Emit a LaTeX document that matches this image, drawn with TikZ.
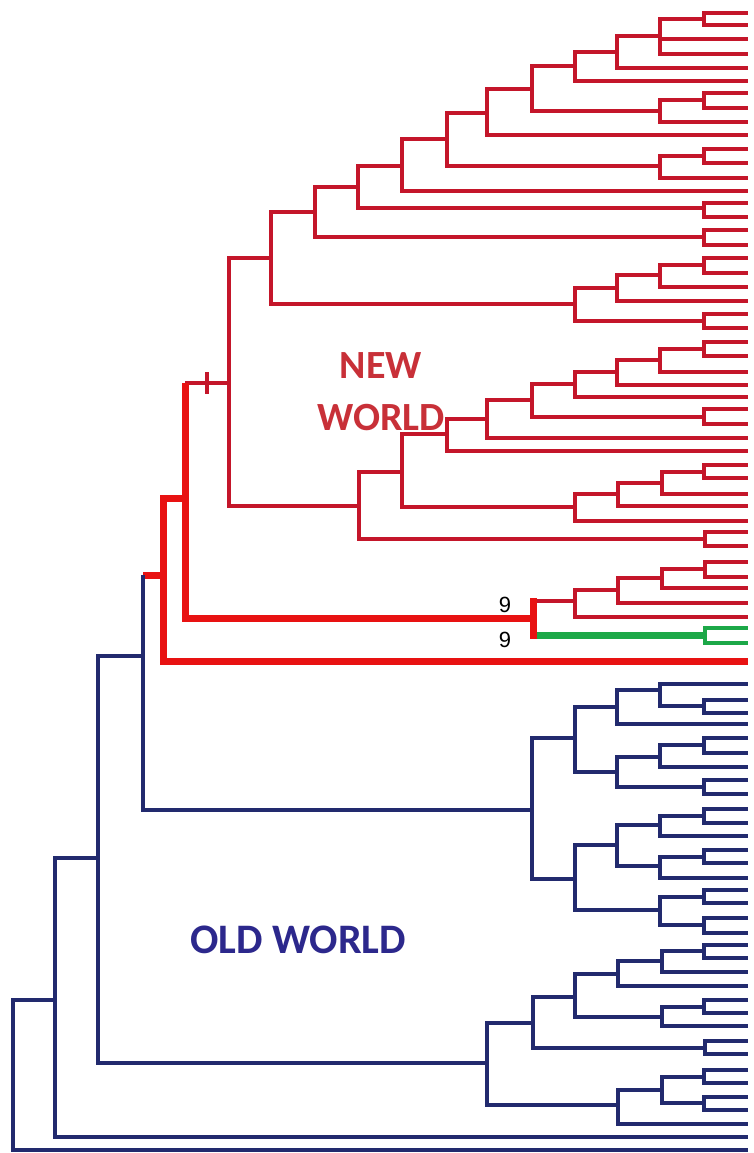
\documentclass[tikz,border=0pt]{standalone}
\usepackage{fontspec}
\setmainfont{Carlito}
\newfontfamily\numfont{Liberation Sans}
\usetikzlibrary{calc}
\definecolor{rthin}{RGB}{196,22,42}
\definecolor{rthick}{RGB}{232,18,18}
\definecolor{navy}{RGB}{34,42,110}
\definecolor{grn}{RGB}{28,168,72}
\definecolor{nwtext}{RGB}{200,48,56}
\definecolor{owtext}{RGB}{44,40,140}
\newcommand\kids[3]{\foreach \kd in {#3}{\draw[#1] (#2) |- (\kd);}}
\begin{document}
\begin{tikzpicture}[x=1pt,y=-1pt,
  rl/.style={draw=rthin,line width=3.4pt,line join=miter},
  rt/.style={draw=rthick,line width=7pt,line join=miter},
  bl/.style={draw=navy,line width=3.7pt,line join=miter},
  gt/.style={draw=grn,line width=7pt},
  gl/.style={draw=grn,line width=3.4pt,line join=miter},
  lbl/.style={font=\fontsize{40}{40}\selectfont\bfseries,anchor=base,inner sep=0pt},
  num/.style={font=\numfont\fontsize{22}{22}\selectfont,inner sep=0pt}]
\useasboundingbox (0,0) rectangle (754,1153);
% leaves
\foreach \yy [count=\i] in {13,25,39,54,68,81,93,108,122,135,149,163,178,191,203,217,230,245,258,273,287,301,314,328,342,356,372,385,397,409,424,438,451,465,478,494,506,521,532,546,562,577,588,603,617,628,643,661}{\coordinate (r\i) at (748,\yy);}
\foreach \yy [count=\i] in {684,700,713,724,738,753,767,780,794,809,823,836,850,863,878,890,903,918,933,945,958,972,986,1000,1013,1026,1041,1054,1070,1083,1097,1110,1124,1137,1150}{\coordinate (b\i) at (748,\yy);}
% red internal nodes
\coordinate (A) at (704,19);
\coordinate (B) at (660,36);
\coordinate (C) at (617,52);
\coordinate (D) at (575,66);
\coordinate (E1) at (704,100);
\coordinate (E) at (660,111);
\coordinate (F) at (532,89);
\coordinate (G) at (487,113);
\coordinate (H1) at (704,156);
\coordinate (H) at (660,166);
\coordinate (I) at (447,139);
\coordinate (J) at (402,166);
\coordinate (K1) at (704,208);
\coordinate (K) at (358,187);
\coordinate (L1) at (704,237);
\coordinate (L) at (315,212);
\coordinate (M1) at (704,265);
\coordinate (M2) at (660,275);
\coordinate (M3) at (617,288);
\coordinate (M4) at (704,321);
\coordinate (M) at (575,304);
\coordinate (N) at (271,258);
\coordinate (O1) at (704,349);
\coordinate (O2) at (660,360);
\coordinate (O3) at (617,372);
\coordinate (O4) at (575,384);
\coordinate (O5) at (704,417);
\coordinate (O6) at (532,400);
\coordinate (O) at (487,419);
\coordinate (P) at (447,434);
\coordinate (Q1) at (704,472);
\coordinate (Q2) at (662,483);
\coordinate (Q3) at (618,494);
\coordinate (Q) at (575,507);
\coordinate (R) at (402,472);
\coordinate (S1) at (705,539);
\coordinate (S) at (359,506);
\coordinate (T) at (229,383);
\coordinate (tk) at (207,383);
\coordinate (U1) at (705,569);
\coordinate (U2) at (662,578);
\coordinate (U3) at (618,590);
\coordinate (U) at (575,601);
\coordinate (G1) at (705,635);
\coordinate (V) at (533,618);
\coordinate (W) at (185,498);
\coordinate (X) at (163,575);
% blue internal nodes
\coordinate (Y) at (143,656);
\coordinate (Z) at (532,810);
\coordinate (Za) at (575,738);
\coordinate (Za1) at (617,707);
\coordinate (Za11) at (660,690);
\coordinate (Zc1) at (704,706);
\coordinate (Za2) at (617,772);
\coordinate (Za21) at (660,757);
\coordinate (Zc3) at (704,745);
\coordinate (Zc2) at (704,787);
\coordinate (Zb) at (575,879);
\coordinate (Zb1) at (617,845);
\coordinate (Zb11) at (660,825);
\coordinate (Zc4) at (704,816);
\coordinate (Zb12) at (660,866);
\coordinate (Zc5) at (704,857);
\coordinate (Zb2) at (660,910);
\coordinate (Zc6) at (704,897);
\coordinate (Zc7) at (704,925);
\coordinate (Y2) at (98,858);
\coordinate (Lo) at (487,1063);
\coordinate (Lo1) at (533,1023);
\coordinate (Zc8) at (705,1048);
\coordinate (Lo11) at (575,997);
\coordinate (Lo111) at (618,974);
\coordinate (Lo1111) at (662,961);
\coordinate (Zc9) at (704,951);
\coordinate (Lo112) at (662,1017);
\coordinate (Zc10) at (704,1007);
\coordinate (Lo2) at (618,1105);
\coordinate (Lo21) at (662,1090);
\coordinate (Zc11) at (704,1077);
\coordinate (Zc12) at (704,1103);
\coordinate (Y3) at (55,1000);
\coordinate (Rt) at (13,1075);
% red thin edges
\kids{rl}{A}{r1,r2}
\kids{rl}{B}{A,r3,r4}
\kids{rl}{C}{B,r5}
\kids{rl}{D}{C,r6}
\kids{rl}{E1}{r7,r8}
\kids{rl}{E}{E1,r9}
\kids{rl}{F}{D,E}
\kids{rl}{G}{F,r10}
\kids{rl}{H1}{r11,r12}
\kids{rl}{H}{H1,r13}
\kids{rl}{I}{G,H}
\kids{rl}{J}{I,r14}
\kids{rl}{K1}{r15,r16}
\kids{rl}{K}{J,K1}
\kids{rl}{L1}{r17,r18}
\kids{rl}{L}{K,L1}
\kids{rl}{M1}{r19,r20}
\kids{rl}{M2}{M1,r21}
\kids{rl}{M3}{M2,r22}
\kids{rl}{M4}{r23,r24}
\kids{rl}{M}{M3,M4}
\kids{rl}{N}{L,M}
\kids{rl}{O1}{r25,r26}
\kids{rl}{O2}{O1,r27}
\kids{rl}{O3}{O2,r28}
\kids{rl}{O4}{O3,r29}
\kids{rl}{O5}{r30,r31}
\kids{rl}{O6}{O4,O5}
\kids{rl}{O}{O6,r32}
\kids{rl}{P}{O,r33}
\kids{rl}{Q1}{r34,r35}
\kids{rl}{Q2}{Q1,r36}
\kids{rl}{Q3}{Q2,r37}
\kids{rl}{Q}{Q3,r38}
\kids{rl}{R}{P,Q}
\kids{rl}{S1}{r39,r40}
\kids{rl}{S}{R,S1}
\kids{rl}{T}{N,S}
\kids{rl}{U1}{r41,r42}
\kids{rl}{U2}{U1,r43}
\kids{rl}{U3}{U2,r44}
\kids{rl}{U}{U3,r45}
\kids{gl}{G1}{r46,r47}
% thick red backbone
\draw[rl] (V|-U) -- (U);
\draw[gt] (V|-G1) -- (G1);
\draw[rt,line cap=rect] (V|-U) -- (V|-G1);
\draw[rl] (W|-T) -- (T);
\draw[rl] ($(tk)+(0,-11)$) -- ($(tk)+(0,11)$);
\draw[rt] (W|-T) |- (V);
\draw[rt] (W) -| (X) |- (r48);
\draw[rt] (Y|-X) -- (X);
% blue edges
\draw[bl] (Y|-X) |- (Z);
\kids{bl}{Z}{Za,Zb}
\kids{bl}{Za}{Za1,Za2}
\kids{bl}{Za1}{Za11,b4}
\kids{bl}{Za11}{b1,Zc1}
\kids{bl}{Zc1}{b2,b3}
\kids{bl}{Za2}{Za21,Zc2}
\kids{bl}{Za21}{Zc3,b7}
\kids{bl}{Zc3}{b5,b6}
\kids{bl}{Zc2}{b8,b9}
\kids{bl}{Zb}{Zb1,Zb2}
\kids{bl}{Zb1}{Zb11,Zb12}
\kids{bl}{Zb11}{Zc4,b12}
\kids{bl}{Zc4}{b10,b11}
\kids{bl}{Zb12}{Zc5,b15}
\kids{bl}{Zc5}{b13,b14}
\kids{bl}{Zb2}{Zc6,Zc7}
\kids{bl}{Zc6}{b16,b17}
\kids{bl}{Zc7}{b18,b19}
\kids{bl}{Y2}{Y,Lo}
\kids{bl}{Lo}{Lo1,Lo2}
\kids{bl}{Lo1}{Lo11,Zc8}
\kids{bl}{Zc8}{b27,b28}
\kids{bl}{Lo11}{Lo111,Lo112}
\kids{bl}{Lo111}{Lo1111,b23}
\kids{bl}{Lo1111}{Zc9,b22}
\kids{bl}{Zc9}{b20,b21}
\kids{bl}{Lo112}{Zc10,b26}
\kids{bl}{Zc10}{b24,b25}
\kids{bl}{Lo2}{Lo21,b33}
\kids{bl}{Lo21}{Zc11,Zc12}
\kids{bl}{Zc11}{b29,b30}
\kids{bl}{Zc12}{b31,b32}
\kids{bl}{Y3}{Y2,b34}
\kids{bl}{Rt}{Y3,b35}
% labels
\node[lbl,text=nwtext] (nw1) at (381,378) {NEW};
\node[lbl,text=nwtext] (nw2) at (381,430) {WORLD};
\node[lbl,text=owtext,font=\fontsize{42}{42}\selectfont\bfseries] (ow) at (298,953) {OLD WORLD};
\node[num] (n1) at (505,605) {9};
\node[num] (n2) at (505,640) {9};
\end{tikzpicture}
\end{document}
